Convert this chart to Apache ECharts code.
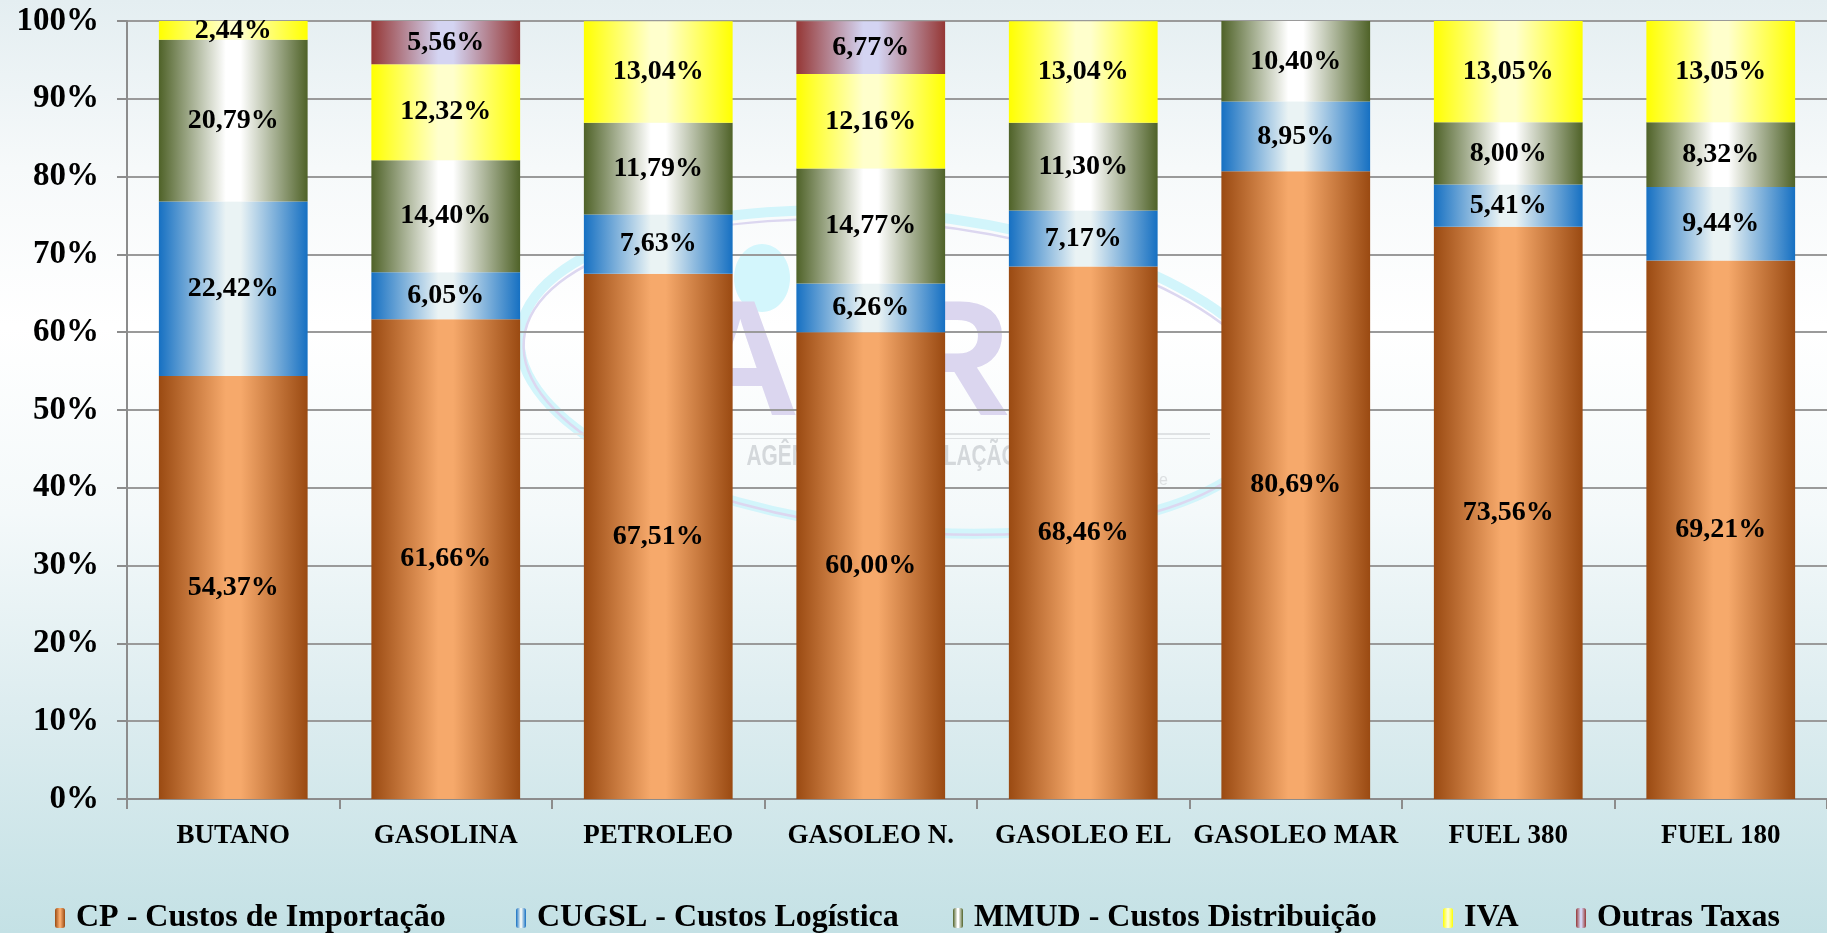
<!DOCTYPE html>
<html>
<head>
<meta charset="utf-8">
<script src="https://cdn.jsdelivr.net/npm/echarts@6/dist/echarts.min.js"></script>
<style>
html,body{margin:0;padding:0;}
#chart{width:1827px;height:933px;background:linear-gradient(to bottom,#e4eef1 0%,#f6f9fa 18%,#ffffff 35%,#f4f9fa 55%,#deedf0 75%,#c4e1e5 100%);}
</style>
</head>
<body>
<div id="chart"></div>
<script>
const categories = ['BUTANO','GASOLINA','PETROLEO','GASOLEO N.','GASOLEO EL','GASOLEO MAR','FUEL 380','FUEL 180'];
const seriesNames = ['CP - Custos de Importação','CUGSL - Custos Logística','MMUD - Custos Distribuição','IVA','Outras Taxas'];
const cp     = [54.37, 61.66, 67.51, 60.00, 68.46, 80.69, 73.56, 69.21];
const cugsl  = [22.42,  6.05,  7.63,  6.26,  7.17,  8.95,  5.41,  9.44];
const mmud   = [20.79, 14.40, 11.79, 14.77, 11.30, 10.40,  8.00,  8.32];
const iva    = [ 2.44, 12.32, 13.04, 12.16, 13.04,  null, 13.05, 13.05];
const outras = [ null,  5.56,  null,  6.77,  null,  null,  null,  null];
const yTicks = ['0%','10%','20%','30%','40%','50%','60%','70%','80%','90%','100%'];
const watermarkText = 'AGÊNCIA DE REGULAÇÃO ECONÓMICA';
const watermarkSub = 'Cabo Verde';

const seriesData = [cp, cugsl, mmud, iva, outras];
const palette = [
  ['#9a4a12','#f6a96b'],
  ['#1670c2','#eaf3f4'],
  ['#4f6228','#ffffff'],
  ['#ffff00','#ffffcc'],
  ['#953735','#d4d4f2']
];
function grad(edge, mid){
  return new echarts.graphic.LinearGradient(0,0,1,0,[
    {offset:0,color:edge},{offset:0.45,color:mid},{offset:0.55,color:mid},{offset:1,color:edge}
  ]);
}
const serif = '"Liberation Serif", "DejaVu Serif", serif';
const series = seriesNames.map((n,i)=>({
  name:n, type:'bar', stack:'total', barWidth:'70%',
  data: seriesData[i],
  itemStyle:{color:grad(palette[i][0],palette[i][1])},
  label:{show:true, position:'inside', color:'#000', fontFamily:serif, fontWeight:'bold', fontSize:28,
    formatter:p=> (p.value==null?'':p.value.toFixed(2).replace('.',',')+'%')},
  emphasis:{disabled:true}
}));

const legendLeft = [50, 511, 948, 1438, 1571];
const legends = seriesNames.map((n,i)=>({
  data:[n], left:legendLeft[i], top:897, itemWidth:10, itemHeight:20,
  textStyle:{fontFamily:serif, fontWeight:'bold', fontSize:32, color:'#000', padding:[0,0,0,6]},
  selectedMode:false
}));

// faint background watermark (decorative logo)
const watermark = [
  {type:'ellipse', z:-10, shape:{cx:900, cy:372, rx:382, ry:158}, rotation:-0.1, originX:900, originY:372,
    style:{fill:null, stroke:'#d2f5fb', lineWidth:10}},
  {type:'ellipse', z:-9, shape:{cx:900, cy:377, rx:378, ry:154}, rotation:-0.1, originX:900, originY:377,
    style:{fill:null, stroke:'#dcd7f0', lineWidth:2.5}},
  {type:'ellipse', z:-9, shape:{cx:762, cy:278, rx:28, ry:34}, style:{fill:'#d3f6fc'}},
  {type:'text', z:-8, style:{x:800, y:369, text:'A', textAlign:'right', textVerticalAlign:'middle',
    font:'bold 165px "Liberation Sans", sans-serif', fill:'#dbd6ef'}},
  {type:'text', z:-8, style:{x:1011, y:369, text:'R', textAlign:'right', textVerticalAlign:'middle',
    font:'bold 165px "Liberation Sans", sans-serif', fill:'#dbd6ef'}},
  {type:'rect', z:-8, shape:{x:519, y:433, width:691, height:2}, style:{fill:'#dfe2e4'}},
  {type:'rect', z:-8, shape:{x:519, y:438, width:691, height:1}, style:{fill:'#dfe2e4'}},
  {type:'text', z:-8, x:950, y:457, scaleX:0.72, style:{x:0, y:0, text:watermarkText, textAlign:'center', textVerticalAlign:'middle',
    font:'bold 29px "Liberation Sans", sans-serif', fill:'#d4d8db'}},
  {type:'text', z:-8, style:{x:1168, y:481, text:watermarkSub, textAlign:'right', textVerticalAlign:'middle',
    font:'16px "Liberation Sans", sans-serif', fill:'#dde0e2'}}
];

const chart = echarts.init(document.getElementById('chart'));
chart.setOption({
  animation:false,
  grid:{left:127, right:0, top:21, bottom:134},
  graphic: watermark,
  legend: legends,
  xAxis:{type:'category', data:categories,
    axisLine:{lineStyle:{color:'#8c8c8c', width:2}},
    axisTick:{show:true, interval:0, length:10, lineStyle:{color:'#8c8c8c', width:2}},
    axisLabel:{interval:0, margin:24, color:'#000', fontFamily:serif, fontWeight:'bold', fontSize:27}
  },
  yAxis:{type:'value', min:0, max:100, interval:10,
    axisLine:{show:true, lineStyle:{color:'#8c8c8c', width:2}},
    axisTick:{show:true, length:10, lineStyle:{color:'#8c8c8c', width:2}},
    splitLine:{lineStyle:{color:'#9a9a9a', width:2}},
    axisLabel:{margin:28, color:'#000', fontFamily:serif, fontWeight:'bold', fontSize:33,
      formatter:(v)=>yTicks[Math.round(v/10)]}
  },
  series: series
});
</script>
</body>
</html>
